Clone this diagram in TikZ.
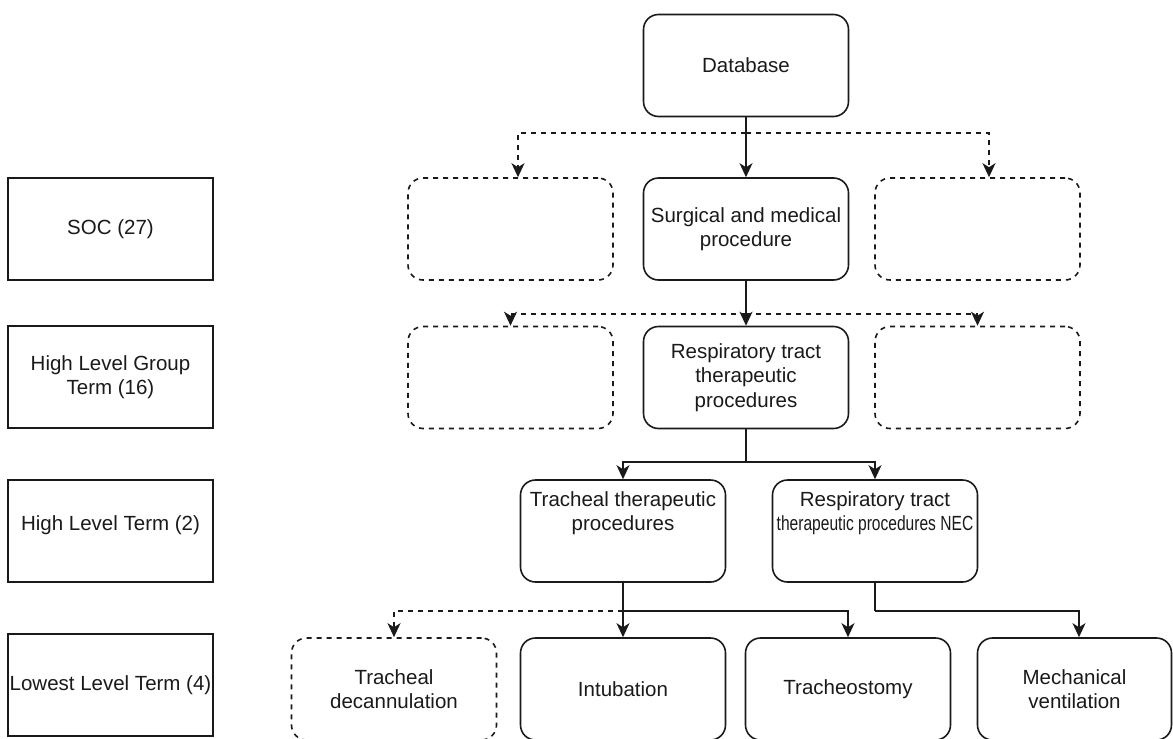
\documentclass[tikz,border=0pt]{standalone}
\usepackage{fontspec}
\setmainfont{Liberation Sans}
\usetikzlibrary{arrows.meta}
\definecolor{ink}{HTML}{1A1A1A}
\begin{document}
\begin{tikzpicture}[x=1pt,y=-1pt,
  font=\fontsize{20.5}{24.6}\selectfont,
  box/.style={draw=ink, line width=1.6pt, minimum width=205pt, minimum height=102pt,
    inner sep=0pt, align=center, text=ink},
  rbox/.style={box, rounded corners=15pt},
  dbox/.style={rbox, dash pattern=on 5pt off 5pt},
  lbl/.style={align=center, text=ink, inner sep=0pt},
  conn/.style={draw=ink, line width=1.6pt},
  arr/.style={conn, -{Stealth[length=14pt,width=13pt,inset=4pt]}},
  darr/.style={arr, dash pattern=on 5pt off 5pt},
]
\useasboundingbox (0,0) rectangle (1173,739);
% level labels
\node[box] (soc)  at (110.5,229) {SOC (27)};
\node[box] (hlgt) at (110.5,377) {High Level Group\\Term (16)};
\node[box, label={[lbl,yshift=6pt]center:High Level Term (2)}] (hlt) at (110.5,531) {};
\node[box] (llt)  at (110.5,685) {Lowest Level Term (4)};
% hierarchy
\node[rbox] (db)   at (746,65.5) {Database};
\node[rbox] (surg) at (746,229) {Surgical and medical\\procedure};
\node[dbox] (socL) at (510.5,229) {};
\node[dbox] (socR) at (977.5,229) {};
\node[rbox] (resp) at (746,377.5) {Respiratory tract\\therapeutic\\procedures};
\node[dbox] (hlgtL) at (510.5,377.5) {};
\node[dbox] (hlgtR) at (977.5,377.5) {};
\node[rbox, label={[lbl,yshift=18pt]center:{Tracheal therapeutic\\procedures}}] (trt) at (623,531) {};
\node[rbox, label={[lbl,yshift=18pt]center:{Respiratory tract\\\scalebox{0.76}[1]{therapeutic procedures NEC}}}] (nec) at (875,531) {};
\node[dbox] (dec)  at (394,689) {Tracheal\\decannulation};
\node[rbox] (intu) at (623,689) {Intubation};
\node[rbox] (trs)  at (848,689) {Tracheostomy};
\node[rbox, minimum width=194pt] (mech) at (1074.5,689) {Mechanical\\ventilation};
% junctions
\coordinate (j1) at (746,133);
\coordinate (j2) at (746,314);
\coordinate (j3) at (746,462);
\coordinate (j4) at (623,611);
\coordinate (j5) at (875,611);
% connectors
\draw[arr] (db.south) -- (surg.north);
\draw[darr] (j1) -| ([xshift=7.5pt]socL.north);
\draw[darr] (j1) -| ([xshift=11.5pt]socR.north);
\draw[arr] (surg.south) -- (resp.north);
\draw[darr] (j2) -| (hlgtL.north);
\draw[darr] (j2) -| (hlgtR.north);
\draw[conn] (resp.south) -- (j3);
\draw[arr] (j3) -| (trt.north);
\draw[arr] (j3) -| (nec.north);
\draw[arr] (trt.south) -- (intu.north);
\draw[darr] (j4) -| (dec.north);
\draw[arr] (j4) -| (trs.north);
\draw[conn] (nec.south) -- (j5);
\draw[arr] (j5) -| ([xshift=4.5pt]mech.north);
\end{tikzpicture}
\end{document}
